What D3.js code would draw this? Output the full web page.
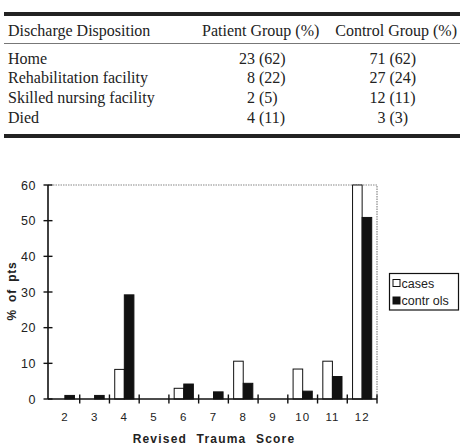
<!DOCTYPE html>
<html>
<head>
<meta charset="utf-8">
<script src="https://cdn.jsdelivr.net/npm/d3@7"></script>
<style>
  body { margin: 0; background: #fff; }
  svg { display: block; }
</style>
</head>
<body>
<svg id="fig" width="468" height="446"></svg>
<script>
// table data
const tableHeaders = ['Discharge Disposition', 'Patient Group (%)', 'Control Group (%)'];
const dispositions = ['Home', 'Rehabilitation facility', 'Skilled nursing facility', 'Died'];
const patientCounts = [23, 8, 2, 4];
const patientPct = [62, 22, 5, 11];
const controlCounts = [71, 27, 12, 3];
const controlPct = [62, 24, 11, 3];

// chart data
const scores = ['2', '3', '4', '5', '6', '7', '8', '9', '10', '11', '12'];
const cases = [0, 0, 8.3, 0, 3, 0, 10.6, 0, 8.4, 10.6, 60];
const controls = [1, 1, 29.2, 0, 4.2, 2, 4.4, 0, 2.2, 6.3, 50.9];
const yTicks = [0, 10, 20, 30, 40, 50, 60];
const seriesNames = ['cases', 'contr ols'];

const svg = d3.select('#fig');

// ---------- table ----------
const serif = '"Liberation Serif", "Times New Roman", serif';
const tbl = svg.append('g').attr('font-family', serif).attr('font-size', 16).attr('fill', '#222');

tbl.append('rect').attr('x', 4).attr('y', 12).attr('width', 456).attr('height', 4).attr('fill', '#222');
tbl.append('line').attr('x1', 4).attr('x2', 460).attr('y1', 43.5).attr('y2', 43.5)
    .attr('stroke', '#777').attr('stroke-width', 1);
tbl.append('rect').attr('x', 4).attr('y', 134).attr('width', 456).attr('height', 4).attr('fill', '#222');

tbl.append('text').attr('x', 8).attr('y', 36).text(tableHeaders[0]);
tbl.append('text').attr('x', 202).attr('y', 36).text(tableHeaders[1]);
tbl.append('text').attr('x', 457).attr('y', 36).attr('text-anchor', 'end').text(tableHeaders[2]);

const rowY = d3.scalePoint().domain(dispositions).range([63.5, 122.5]);

dispositions.forEach((d, i) => {
    let yy = rowY(d);
    tbl.append('text').attr('x', 8).attr('y', yy).text(d);
    tbl.append('text').attr('x', 255).attr('y', yy).attr('text-anchor', 'end').text(patientCounts[i]);
    tbl.append('text').attr('x', 259).attr('y', yy).text('(' + patientPct[i] + ')');
    tbl.append('text').attr('x', 385.5).attr('y', yy).attr('text-anchor', 'end').text(controlCounts[i]);
    tbl.append('text').attr('x', 389.5).attr('y', yy).text('(' + controlPct[i] + ')');
});

// ---------- bar chart ----------
const sans = '"Liberation Sans", Arial, Helvetica, sans-serif';
const plotLeft = 48, plotRight = 377, plotTop = 185, plotBottom = 399;

const x = d3.scaleBand().domain(scores).range([50, plotRight]).paddingInner(0).paddingOuter(0);
const xSub = d3.scaleBand().domain(['cases', 'controls']).range([0, x.bandwidth()]).paddingOuter(0.55);
const y = d3.scaleLinear().domain([0, 60]).range([plotBottom, plotTop]);

const chart = svg.append('g').attr('font-family', sans);

// dotted frame top + right
chart.append('path')
    .attr('d', `M${plotLeft},${plotTop}H${plotRight}V${plotBottom}`)
    .attr('fill', 'none').attr('stroke', '#888').attr('stroke-width', 1.2)
    .attr('stroke-dasharray', '1.5,1');

// bars
const groups = chart.selectAll('g.score').data(scores).enter().append('g')
    .attr('class', 'score')
    .attr('transform', d => `translate(${x(d)},0)`);

groups.filter((d, i) => cases[i] > 0).append('rect')
    .attr('x', xSub('cases'))
    .attr('y', d => y(cases[scores.indexOf(d)]))
    .attr('width', xSub.bandwidth())
    .attr('height', d => plotBottom - y(cases[scores.indexOf(d)]))
    .attr('fill', '#fff').attr('stroke', '#111').attr('stroke-width', 1);

groups.filter((d, i) => controls[i] > 0).append('rect')
    .attr('x', xSub('controls'))
    .attr('y', d => y(controls[scores.indexOf(d)]))
    .attr('width', xSub.bandwidth())
    .attr('height', d => plotBottom - y(controls[scores.indexOf(d)]))
    .attr('fill', '#111').attr('stroke', '#111').attr('stroke-width', 1);

// y axis
chart.append('line').attr('x1', plotLeft).attr('x2', plotLeft).attr('y1', plotTop).attr('y2', plotBottom)
    .attr('stroke', '#111').attr('stroke-width', 1.6);
chart.selectAll('line.ytick').data(yTicks).enter().append('line')
    .attr('class', 'ytick')
    .attr('x1', plotLeft - 4.5).attr('x2', plotLeft + 4.5)
    .attr('y1', d => y(d)).attr('y2', d => y(d))
    .attr('stroke', '#111').attr('stroke-width', 1.4);
chart.selectAll('text.ylab').data(yTicks).enter().append('text')
    .attr('class', 'ylab')
    .attr('x', 36).attr('y', d => y(d)).attr('dy', '0.36em')
    .attr('text-anchor', 'end').attr('font-size', 12.5).attr('letter-spacing', 0.5)
    .attr('fill', '#222')
    .text(d => d);

// x axis
chart.append('line').attr('x1', plotLeft).attr('x2', plotRight).attr('y1', plotBottom).attr('y2', plotBottom)
    .attr('stroke', '#111').attr('stroke-width', 1.6);
const boundaries = scores.map(s => x(s) + x.bandwidth());
chart.selectAll('line.xtick').data(boundaries).enter().append('line')
    .attr('class', 'xtick')
    .attr('x1', d => d).attr('x2', d => d)
    .attr('y1', plotBottom - 4.5).attr('y2', plotBottom + 4.5)
    .attr('stroke', '#111').attr('stroke-width', 1.4);
chart.selectAll('text.xlab').data(scores).enter().append('text')
    .attr('class', 'xlab')
    .attr('x', d => x(d) + x.bandwidth() / 2).attr('y', 421)
    .attr('text-anchor', 'middle').attr('font-size', 11.5).attr('letter-spacing', 1)
    .attr('fill', '#222')
    .text(d => d);

// axis titles
chart.append('text')
    .attr('transform', 'translate(16,291) rotate(-90)')
    .attr('text-anchor', 'middle').attr('font-size', 12).attr('font-weight', 'bold')
    .attr('letter-spacing', 0.8).attr('word-spacing', 3).attr('fill', '#222')
    .text('% of pts');
chart.append('text')
    .attr('x', 214).attr('y', 443)
    .attr('text-anchor', 'middle').attr('font-size', 12).attr('font-weight', 'bold')
    .attr('letter-spacing', 1.2).attr('word-spacing', 5).attr('fill', '#222')
    .text('Revised Trauma Score');

// legend
const legend = chart.append('g').attr('transform', 'translate(389.5,273.5)');
legend.append('rect').attr('width', 69).attr('height', 36.5)
    .attr('fill', '#fff').attr('stroke', '#111').attr('stroke-width', 1.2);
const legendY = d3.scalePoint().domain(seriesNames).range([9.5, 27]);
legend.selectAll('rect.key').data(seriesNames).enter().append('rect')
    .attr('class', 'key')
    .attr('x', 3.5).attr('y', d => legendY(d) - 3.5)
    .attr('width', 7).attr('height', 7)
    .attr('fill', (d, i) => i === 0 ? '#fff' : '#111')
    .attr('stroke', '#111').attr('stroke-width', 1);
legend.selectAll('text.key').data(seriesNames).enter().append('text')
    .attr('class', 'key')
    .attr('x', 12).attr('y', d => legendY(d)).attr('dy', '0.36em')
    .attr('font-size', 12.5).attr('fill', '#222')
    .text(d => d);
</script>
</body>
</html>
